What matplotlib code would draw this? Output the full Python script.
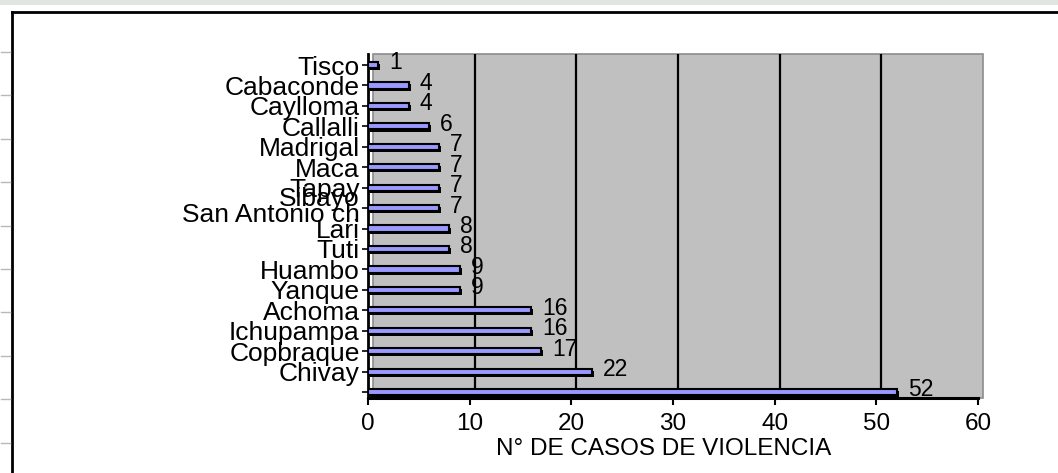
import numpy as np
import matplotlib
matplotlib.use('Agg')
import matplotlib.pyplot as plt
from matplotlib import transforms
from matplotlib.patches import Rectangle
from matplotlib import patheffects as pe

# data (top to bottom)
distritos = ['Tisco', 'Cabaconde', 'Caylloma', 'Callalli', 'Madrigal', 'Maca', 'Tapay',
             'Sibayo\nSan Antonio ch', 'Lari', 'Tuti', 'Huambo', 'Yanque', 'Achoma',
             'Ichupampa', 'Copbraque', 'Chivay', '']
casos = [1, 4, 4, 6, 7, 7, 7, 7, 8, 8, 9, 9, 16, 16, 17, 22, 52]
xticks = [0, 10, 20, 30, 40, 50, 60]

plt.rcParams['font.family'] = ['Liberation Sans', 'DejaVu Sans']

W, H = 1058, 473
fig = plt.figure(figsize=(W / 100, H / 100), dpi=100)

# page frame around the chart
fig.add_artist(Rectangle((0, 1 - 5 / H), 1, 5 / H, transform=fig.transFigure,
                         facecolor='#e2e6e2', lw=0))
fig.add_artist(plt.Line2D([12 / W, 1], [1 - 12 / H] * 2, color='black', lw=2))
fig.add_artist(plt.Line2D([12 / W] * 2, [0, 1 - 12 / H], color='black', lw=2))
for k in range(10):
    yy = 1 - (52 + 43.4 * k) / H
    fig.add_artist(plt.Line2D([1 / W, 10 / W], [yy, yy], color='#b8b8b8', lw=1))

ax = fig.add_axes([368 / W, 1 - 398 / H, 610 / W, 344 / H])
ax.set_facecolor('none')
pos = np.arange(len(casos))
ax.set_xlim(0, 60)
ax.set_ylim(16.29, -0.54)

# grey back wall, shifted a little to the right (old 3D look)
wall_tr = transforms.offset_copy(ax.transAxes, fig=fig, x=5, y=0, units='dots')
ax.add_patch(Rectangle((0, 0), 1, 1, transform=wall_tr, facecolor='#c0c0c0',
                       edgecolor='#8c8c8c', lw=1.2, zorder=0, clip_on=False))
grid_tr = transforms.offset_copy(
    transforms.blended_transform_factory(ax.transData, ax.transAxes),
    fig=fig, x=5, y=0, units='dots')
ax.vlines(xticks[1:-1], 0, 1, transform=grid_tr, colors='black', lw=1.6, zorder=1)

ax.barh(pos, casos, height=0.3, color='#9999ff', edgecolor='black', lw=1.5, zorder=3,
        path_effects=[pe.SimplePatchShadow(offset=(1.5, -1.5), shadow_rgbFace='black',
                                           alpha=1), pe.Normal()])

for p, v in zip(pos, casos):
    ax.annotate(str(v), (v, p), xytext=(8, 1.5), textcoords='offset points',
                ha='left', va='center', fontsize=16.5, zorder=4)

for s in ['top', 'right']:
    ax.spines[s].set_visible(False)
ax.spines['left'].set_linewidth(2)
ax.spines['bottom'].set_linewidth(2.2)

ax.set_xticks(xticks)
ax.set_yticks(pos)
ax.set_yticklabels(distritos, linespacing=0.6)
ax.tick_params(axis='x', length=5, width=1.5, pad=6, labelsize=17.5)
ax.tick_params(axis='y', length=4, width=1.2, pad=2, labelsize=19)
ax.set_xlabel('N° DE CASOS DE VIOLENCIA', fontsize=17.5, labelpad=2, x=0.484)

fig.savefig('out.png', dpi=100)
